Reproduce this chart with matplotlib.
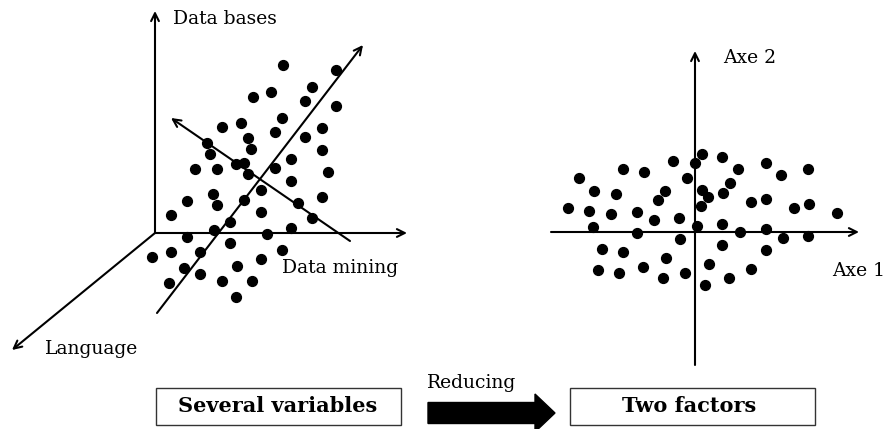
import matplotlib
matplotlib.use("Agg")
import matplotlib.pyplot as plt
from matplotlib.patches import FancyArrow, Rectangle

# Left 3-D cloud (pixel-like coordinates, y downward)
left_x = [283, 336, 253, 271, 312, 305, 336, 282, 222, 241, 248, 275, 305, 322,
          207, 251, 322, 210, 291, 236, 244, 195, 217, 248, 275, 328, 291, 261,
          213, 187, 217, 244, 298, 322, 171, 261, 230, 312, 291, 214, 187, 267,
          230, 152, 171, 200, 282, 184, 237, 261, 169, 200, 222, 252, 236]
left_y = [65, 70, 97, 92, 87, 101, 106, 118, 127, 123, 138, 132, 137, 128,
          143, 149, 150, 154, 159, 164, 163, 169, 169, 174, 168, 172, 181, 190,
          194, 201, 205, 200, 203, 197, 215, 212, 222, 218, 228, 230, 237, 234,
          243, 257, 252, 252, 250, 268, 266, 259, 283, 274, 281, 281, 297]

# Right 2-D factor plane
right_x = [702, 673, 695, 722, 738, 766, 781, 808, 623, 644, 579, 687, 730, 594,
           616, 665, 702, 708, 723, 658, 751, 766, 701, 794, 809, 568, 589, 611,
           637, 654, 679, 837, 593, 697, 722, 637, 740, 766, 783, 808, 680, 722,
           602, 623, 766, 666, 709, 598, 619, 643, 685, 751, 663, 729, 705]
right_y = [154, 161, 163, 157, 169, 163, 175, 169, 169, 172, 178, 178, 183, 191,
           194, 191, 190, 197, 193, 200, 202, 199, 206, 208, 204, 208, 211, 214,
           212, 220, 218, 213, 227, 226, 224, 233, 232, 229, 238, 236, 239, 245,
           249, 252, 250, 258, 264, 270, 273, 267, 273, 269, 278, 278, 285]

labels = ["Data bases", "Data mining", "Language", "Axe 2", "Axe 1"]
box_labels = ["Several variables", "Two factors"]
arrow_label = "Reducing"

W, H = 888, 429
fig = plt.figure(figsize=(W / 100, H / 100), dpi=100)
ax = fig.add_axes([0, 0, 1, 1])
ax.set_xlim(0, W)
ax.set_ylim(H, 0)
ax.axis("off")

font = "DejaVu Serif"
fs = 13.5
lw = 1.5
ak = dict(arrowstyle="->", color="black", lw=lw, mutation_scale=14, shrinkA=0, shrinkB=0)

def arrow(x0, y0, x1, y1):
    ax.annotate("", xy=(x1, y1), xytext=(x0, y0), arrowprops=ak)

# Left axes
arrow(155, 233, 155, 11)
arrow(155, 233, 407, 233)
arrow(155, 233, 12, 350)
arrow(157, 313, 363, 45)
arrow(350, 241, 171, 118)

ax.scatter(left_x, left_y, s=50, color="black", zorder=3)

ax.text(173, 19, labels[0], fontsize=fs, family=font, va="center", ha="left")
ax.text(282, 268, labels[1], fontsize=fs, family=font, va="center", ha="left")
ax.text(45, 349, labels[2], fontsize=fs, family=font, va="center", ha="left")

# Right axes
arrow(695, 365, 695, 51)
arrow(551, 232, 859, 232)
ax.scatter(right_x, right_y, s=50, color="black", zorder=3)
ax.text(723, 58, labels[3], fontsize=fs, family=font, va="center", ha="left")
ax.text(832, 271, labels[4], fontsize=fs, family=font, va="center", ha="left")

# Boxes
ax.add_patch(Rectangle((156, 388), 245, 37, fill=False, lw=1.0, ec="#333333"))
ax.text(278, 406, box_labels[0], fontsize=15, family=font, fontweight="bold",
        ha="center", va="center")
ax.add_patch(Rectangle((570, 388), 245, 37, fill=False, lw=1.0, ec="#333333"))
ax.text(689, 406, box_labels[1], fontsize=15, family=font, fontweight="bold",
        ha="center", va="center")

# Big reducing arrow
ax.add_patch(FancyArrow(428, 413, 107, 0, width=21, head_width=38, head_length=20,
                        length_includes_head=False, color="black"))
ax.text(427, 383, arrow_label, fontsize=fs, family=font, va="center", ha="left")

fig.savefig("out.png", dpi=100)
